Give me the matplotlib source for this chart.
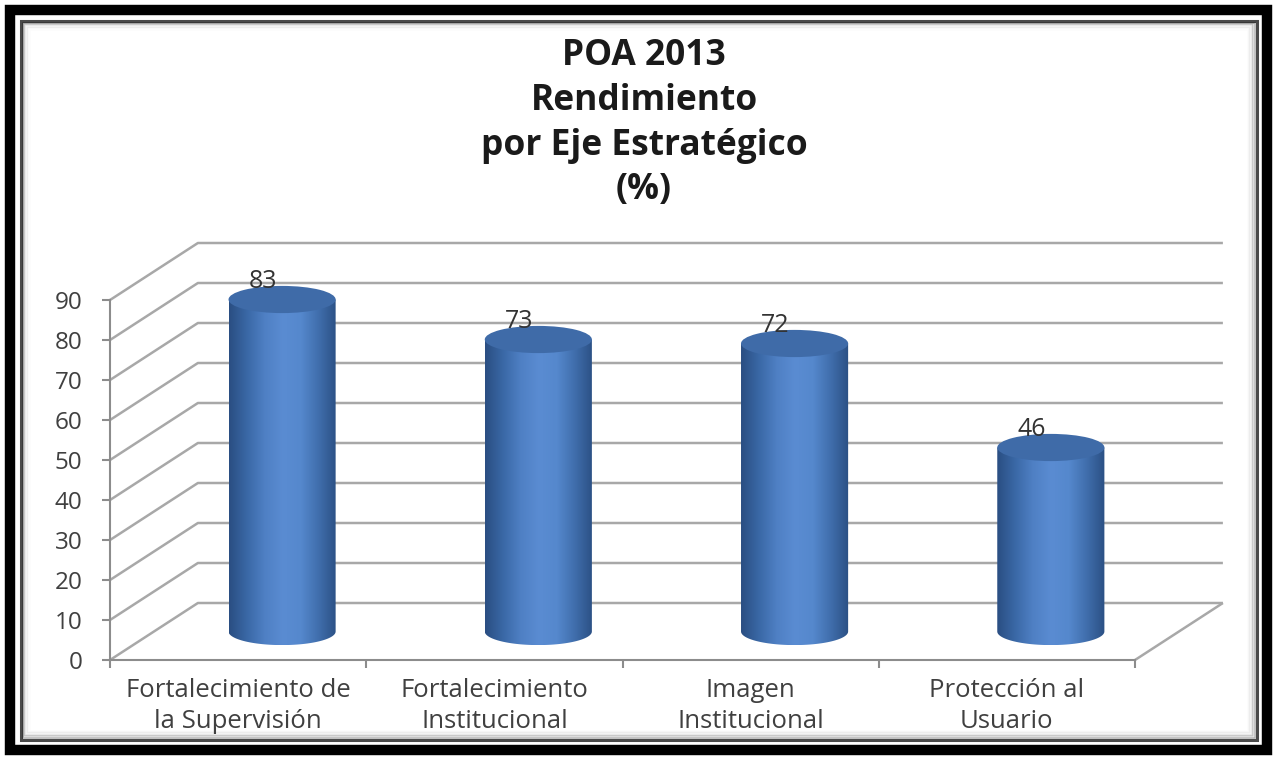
import numpy as np
import matplotlib.pyplot as plt
from matplotlib.patches import Rectangle, Ellipse, PathPatch
from matplotlib.path import Path
from matplotlib.colors import LinearSegmentedColormap

plt.rcParams['font.family'] = ['Open Sans', 'DejaVu Sans']

# data
categories = ['Fortalecimiento de\nla Supervisión', 'Fortalecimiento\nInstitucional',
              'Imagen\nInstitucional', 'Protección al\nUsuario']
values = [83, 73, 72, 46]
yticks = list(range(0, 91, 10))
title_lines = ['POA 2013', 'Rendimiento', 'por Eje Estratégico', '(%)']

W, H = 1277, 760
fig = plt.figure(figsize=(W / 100, H / 100), dpi=100)

# background axes in pixel units: frame + title
bg = fig.add_axes([0, 0, 1, 1])
bg.set_xlim(0, W)
bg.set_ylim(H, 0)
bg.axis('off')

bg.add_patch(Rectangle((10, 10), W - 20, H - 20, fill=False, ec='black', lw=7.5))
bg.add_patch(Rectangle((20.5, 20.5), W - 41, H - 41, fill=False, ec='#4a4a4a', lw=2.2))
for k, a in enumerate([0.3, 0.18, 0.11, 0.06, 0.03, 0.015]):
    o = 22.5 + k * 1.4
    bg.add_patch(Rectangle((o, o), W - 2 * o, H - 2 * o, fill=False, ec='black', alpha=a, lw=1.1))

for line, yb in zip(title_lines, [65, 110, 155, 199]):
    bg.text(644, yb, line, ha='center', va='baseline', fontsize=25.5,
            fontweight='bold', color='#1a1a1a')

# main (front plane) axes
ax = fig.add_axes([110 / W, 100 / H, 1025 / W, 360 / H])
ax.patch.set_alpha(0)
dx, dy = 0.343, 14.25   # depth offset of the back wall

grid_kw = dict(color='#a8a8a8', lw=1.8, clip_on=False, zorder=1, solid_capstyle='butt')
for v in yticks:
    ax.plot([0, dx, 4 + dx], [v, v + dy, v + dy], **grid_kw)
ax.plot([4, 4 + dx], [0, dy], **grid_kw)

# cylinders
cmap = LinearSegmentedColormap.from_list(
    'cyl', ['#2a4e82', '#3a68a6', '#4f80c4', '#5a8cd2', '#5588cd', '#406eac', '#2b5084'])
grad = np.linspace(0, 1, 256)[None, :]
w, eh = 0.418, 3.4
base = dy / 2
t = np.linspace(np.pi, 2 * np.pi, 80)
for i, v in enumerate(values):
    xc = i + 0.5 + dx / 2
    top = v + base
    xs = np.concatenate([[xc - w / 2], xc + w / 2 * np.cos(t), [xc + w / 2]])
    ys = np.concatenate([[top], base + eh * np.sin(t), [top]])
    body = PathPatch(Path(np.column_stack([xs, ys])), fc='none', ec='none')
    ax.add_patch(body)
    im = ax.imshow(grad, cmap=cmap, extent=[xc - w / 2, xc + w / 2, base - eh, top],
                   aspect='auto', zorder=3, interpolation='bilinear')
    im.set_clip_path(body)
    im.set_clip_box(fig.bbox)
    ax.add_patch(Ellipse((xc, top), w, 2 * eh, fc='#3f6ba8', ec='none', zorder=4, clip_on=False))
    ax.annotate(str(v), (xc, top), xytext=(-14, 13), textcoords='offset points',
                ha='center', va='center', fontsize=18, color='#333333', zorder=5,
                annotation_clip=False)

ax.set_xlim(0, 4)
ax.set_ylim(0, 90)
for s in ['top', 'right']:
    ax.spines[s].set_visible(False)
for s in ['left', 'bottom']:
    ax.spines[s].set_color('#8c8c8c')
    ax.spines[s].set_linewidth(1.5)
ax.set_yticks(yticks)
ax.set_xticks(range(5))
ax.set_xticklabels([])
ax.tick_params(axis='y', length=6, width=1.5, color='#8c8c8c', pad=14,
               labelsize=17.5, labelcolor='#404040')
ax.tick_params(axis='x', length=6, width=1.5, color='#8c8c8c')

for i, cat in enumerate(categories):
    ax.text(i + 0.5, -0.05, cat, transform=ax.get_xaxis_transform(), ha='center', va='top',
            fontsize=18.5, color='#404040', linespacing=1.3)

fig.savefig('out.png', dpi=100)
